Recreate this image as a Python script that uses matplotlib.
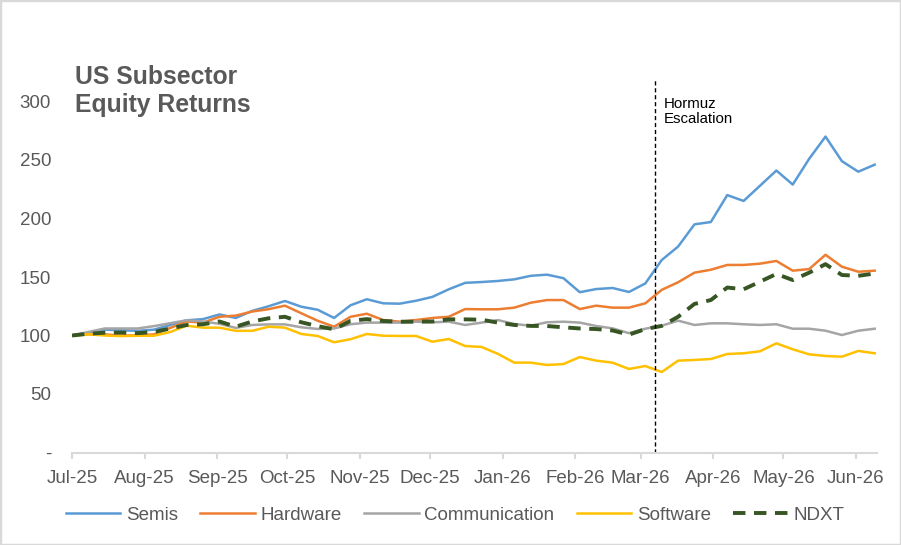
import matplotlib
matplotlib.use("Agg")
import matplotlib.pyplot as plt
import matplotlib.dates as mdates
import pandas as pd
from matplotlib.patches import Rectangle

plt.rcParams['font.family'] = ['Liberation Sans', 'DejaVu Sans']

start_date = "2025-07-04"
n_weeks = 50
event_date = "2026-03-10"
event_label = "Hormuz\nEscalation"
title = "US Subsector\nEquity Returns"

semis = [100, 102.5, 105, 104.5, 104, 105, 109, 113, 114, 118,
         115, 121, 125, 129.5, 124.6, 122, 115, 125.8, 131, 127.5,
         127.2, 129.7, 133, 139.5, 145, 145.7, 146.6, 148, 151, 152,
         149, 137, 139.7, 140.6, 137.2, 144.5, 164.5, 176, 195, 197,
         220, 215, 228, 241, 229, 251, 270, 249, 240, 246]
hardware = [100, 101, 101, 100, 100, 101, 106.5, 112, 111, 116,
            117, 120.5, 122.5, 125.5, 119, 112.6, 107.5, 116, 118.6, 113.2,
            111.8, 113.2, 115, 116, 122.6, 122.4, 122.4, 123.8, 128, 130.3,
            130.3, 122.6, 125.5, 123.8, 123.8, 127.5, 139, 145.5, 153.7, 156.2,
            160.3, 160.3, 161.4, 163.7, 155.4, 156.8, 169, 158.8, 154.5, 155.4]
communication = [100, 103, 106, 106, 106, 108, 110.5, 113, 112, 110,
                 106.5, 109, 109.5, 109.5, 107, 105.6, 106, 109.6, 111, 111,
                 111, 111.8, 111.3, 111.8, 109, 111, 113.2, 109.8, 108.4, 111.3,
                 111.8, 111, 108.1, 106.1, 102, 105.8, 108.4, 112.7, 109, 110.4,
                 110.4, 109.6, 109, 109.6, 105.8, 105.8, 104.1, 100.4, 104.1, 105.8]
software = [100, 101, 100, 99.5, 99.8, 99.8, 103, 108.4, 106.7, 106.7,
            104, 104, 107.5, 106.7, 101.3, 99.6, 94.2, 96.8, 101.3, 99.8,
            99.6, 99.6, 94.7, 97, 91, 90.2, 84.3, 76.8, 76.8, 74.8,
            75.6, 81.6, 78.5, 76.8, 71.4, 73.9, 68.8, 78.5, 79.1, 79.9,
            84.2, 84.8, 86.5, 93.3, 88.2, 83.9, 82.5, 81.9, 86.8, 84.8]
ndxt = [100, 101.5, 102.4, 102.5, 102, 103, 106, 109, 109.6, 112,
        107.5, 112, 114.7, 116, 111.3, 108, 105.3, 112.5, 114, 112.4,
        111.8, 111.8, 112, 113.8, 113.8, 113.5, 111, 109, 108.2, 108.1,
        107, 106, 105.5, 104.3, 100.7, 105.5, 108.2, 116, 127, 130.3,
        141, 139.5, 146, 152.6, 147.4, 153.7, 161, 151.7, 151, 153]

y_ticks = [0, 50, 100, 150, 200, 250, 300]
y_tick_labels = ["-", "50", "100", "150", "200", "250", "300"]

dates = pd.date_range(start_date, periods=n_weeks, freq="7D")

GRAY = "#595959"
fig = plt.figure(figsize=(9.01, 5.45), dpi=100)
ax = fig.add_axes([72/901, 92.5/545, (877-72)/901, (452.5-101.5)/545])

series = [
    ("Semis", semis, "#5B9BD5", "-", 1.8),
    ("Hardware", hardware, "#ED7D31", "-", 1.8),
    ("Communication", communication, "#A5A5A5", "-", 1.8),
    ("Software", software, "#FFC000", "-", 1.8),
    ("NDXT", ndxt, "#375623", (0, (3.2, 2.2)), 2.8),
]
for name, vals, col, ls, lw in series:
    ax.plot(dates, vals, color=col, linestyle=ls, linewidth=lw, label=name,
            solid_joinstyle="round")

ax.set_ylim(0, 300)
ax.set_xlim(pd.Timestamp(start_date), dates[-1] + pd.Timedelta(days=1))
ax.set_yticks(y_ticks)
ax.set_yticklabels(y_tick_labels)

ax.xaxis.set_major_locator(mdates.MonthLocator(bymonthday=4))
ax.xaxis.set_major_formatter(mdates.DateFormatter("%b-%y"))

for s in ["top", "right", "left"]:
    ax.spines[s].set_visible(False)
ax.spines["bottom"].set_color("#D9D9D9")
ax.spines["bottom"].set_linewidth(1.5)
ax.tick_params(axis="x", colors="#D9D9D9", length=4, width=1.5, direction="out",
               labelcolor=GRAY, labelsize=13.5, pad=8.5)
ax.tick_params(axis="y", length=0, labelcolor=GRAY, labelsize=13.5, pad=15)

ev = pd.Timestamp(event_date)
ax.plot([ev, ev], [0, 318], color="black", linestyle=(0, (3, 2)), linewidth=1.0,
        clip_on=False)
fig.text(664/901, 1 - 97/545, event_label, fontsize=10.8, color="black",
         va="top", ha="left", linespacing=1.12)

fig.text(75/901, 1 - 65/545, title, fontsize=17.8, fontweight="bold", color=GRAY,
         va="top", ha="left", linespacing=1.2)

leg = fig.legend(loc="center", bbox_to_anchor=(0.505, 1 - 515/545), ncol=5,
                 frameon=False, fontsize=13.5, handlelength=2.9,
                 handletextpad=0.3, columnspacing=1.2, labelcolor=GRAY)

fig.patches.append(Rectangle((0, 0), 1, 1, transform=fig.transFigure,
                             fill=False, edgecolor="#D9D9D9", linewidth=2.5))

fig.savefig("out.png", dpi=100)
